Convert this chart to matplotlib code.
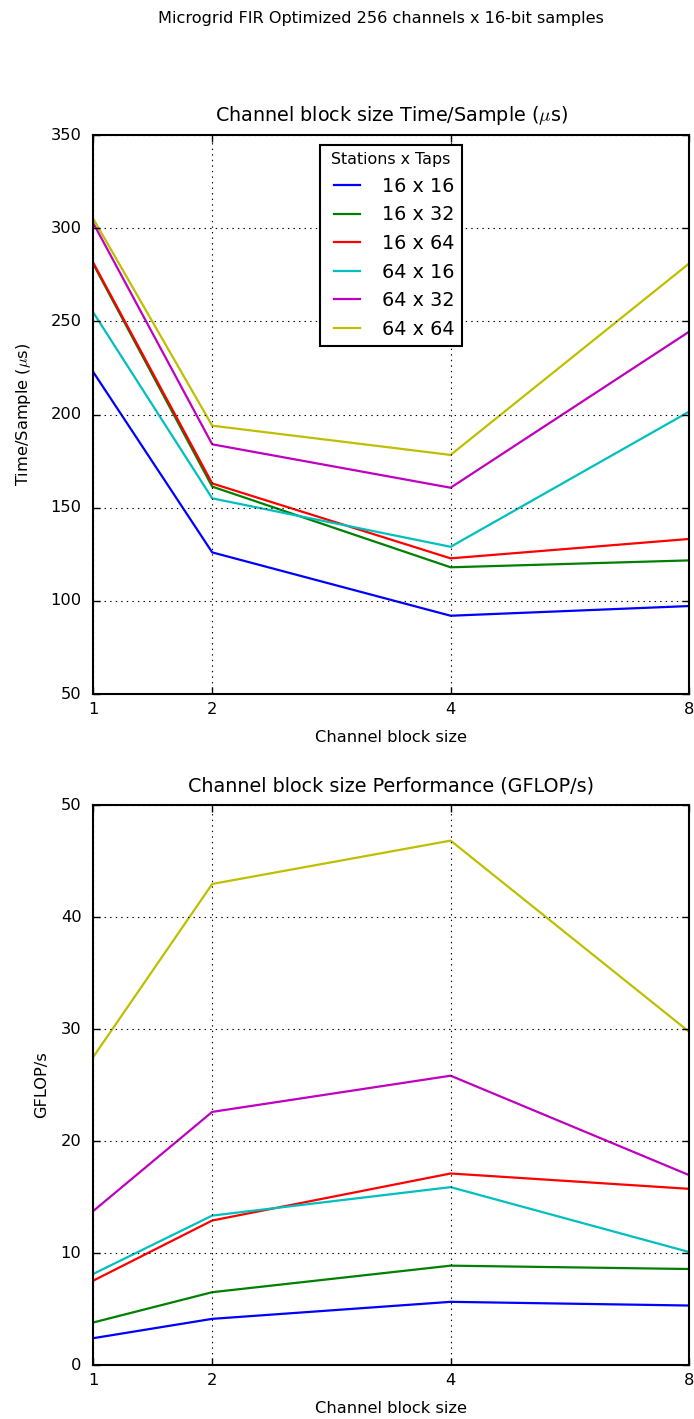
import matplotlib
matplotlib.use("Agg")
import matplotlib.pyplot as plt
from matplotlib.ticker import FixedLocator, FixedFormatter, NullLocator

plt.style.use("classic")
plt.rcParams["font.family"] = ["DejaVu Sans"]

# Channel block sizes measured
block_sizes = [1, 2, 4, 8]
tick_labels = ["1", "2", "4", "8"]

# Station x tap configurations
configs = ["16 x 16", "16 x 32", "16 x 64", "64 x 16", "64 x 32", "64 x 64"]
colors = ["b", "g", "r", "c", "m", "y"]

# Time per sample (microseconds)
time_16x16 = [223.0, 126.0, 92.0, 97.2]
time_16x32 = [281.0, 161.3, 118.0, 121.7]
time_16x64 = [281.7, 163.0, 122.8, 133.2]
time_64x16 = [255.0, 155.0, 129.0, 201.5]
time_64x32 = [303.0, 184.0, 160.7, 244.4]
time_64x64 = [305.3, 194.0, 178.3, 281.0]

# Throughput (GFLOP/s)
gflops_16x16 = [2.39, 4.12, 5.64, 5.31]
gflops_16x32 = [3.79, 6.50, 8.87, 8.57]
gflops_16x64 = [7.52, 12.90, 17.10, 15.73]
gflops_64x16 = [8.12, 13.34, 15.88, 10.09]
gflops_64x32 = [13.73, 22.60, 25.83, 16.96]
gflops_64x64 = [27.47, 42.95, 46.82, 29.76]

time_series = [time_16x16, time_16x32, time_16x64, time_64x16, time_64x32, time_64x64]
gflops_series = [gflops_16x16, gflops_16x32, gflops_16x64, gflops_64x16, gflops_64x32, gflops_64x64]

LABEL_FS = 11.7
TITLE_FS = 13.8

W, H = 694, 1419
fig = plt.figure(figsize=(W / 100, H / 100), dpi=100)
fig.patch.set_facecolor("white")

fig.text(381 / W, 1 - 19 / H, "Microgrid FIR Optimized 256 channels x 16-bit samples",
         ha="center", va="center", fontsize=11.6)

ax1 = fig.add_axes([93 / W, 1 - 694 / H, 596 / W, 559 / H])
ax2 = fig.add_axes([93 / W, 1 - 1365 / H, 596 / W, 560 / H])


def style_axes(ax):
    ax.set_xscale("symlog", base=2, linthresh=4, linscale=1)
    ax.set_xlim(1, 8)
    ax.xaxis.set_major_locator(FixedLocator(block_sizes))
    ax.xaxis.set_major_formatter(FixedFormatter(tick_labels))
    ax.xaxis.set_minor_locator(NullLocator())
    ax.yaxis.set_minor_locator(NullLocator())
    ax.grid(True, linestyle=":", color="k", linewidth=0.8)
    for s in ax.spines.values():
        s.set_linewidth(1.5)
    ax.tick_params(labelsize=LABEL_FS, length=5, width=1)
    ax.tick_params(axis="y", pad=8.3)
    ax.tick_params(axis="x", pad=6.0)
    ax.set_xlabel("Channel block size", fontsize=LABEL_FS)
    ax.xaxis.set_label_coords(0.5, -0.065)


for vals, lab, col in zip(time_series, configs, colors):
    ax1.plot(block_sizes, vals, color=col, lw=1.6, label=lab)
style_axes(ax1)
ax1.set_ylim(50, 350)
ax1.set_yticks(range(50, 351, 50))
ax1.set_title("Channel block size Time/Sample ($\\mu$s)", fontsize=TITLE_FS, pad=10)
ax1.set_ylabel("Time/Sample ($\\mu$s)", fontsize=LABEL_FS)
ax1.yaxis.set_label_coords(-0.101, 0.5)
leg = ax1.legend(loc="upper center", title="Stations x Taps", fontsize=13.8,
                 frameon=True, fancybox=False, handlelength=2.0, borderpad=0.4,
                 labelspacing=0.5)
leg.get_title().set_fontsize(11.4)
leg.get_frame().set_linewidth(1.5)
leg.get_frame().set_edgecolor("k")

for vals, lab, col in zip(gflops_series, configs, colors):
    ax2.plot(block_sizes, vals, color=col, lw=1.6, label=lab)
style_axes(ax2)
ax2.set_ylim(0, 50)
ax2.set_yticks(range(0, 51, 10))
ax2.set_title("Channel block size Performance (GFLOP/s)", fontsize=TITLE_FS, pad=10)
ax2.set_ylabel("GFLOP/s", fontsize=LABEL_FS)
ax2.yaxis.set_label_coords(-0.074, 0.5)

fig.savefig("out.png", dpi=100, facecolor="white")
